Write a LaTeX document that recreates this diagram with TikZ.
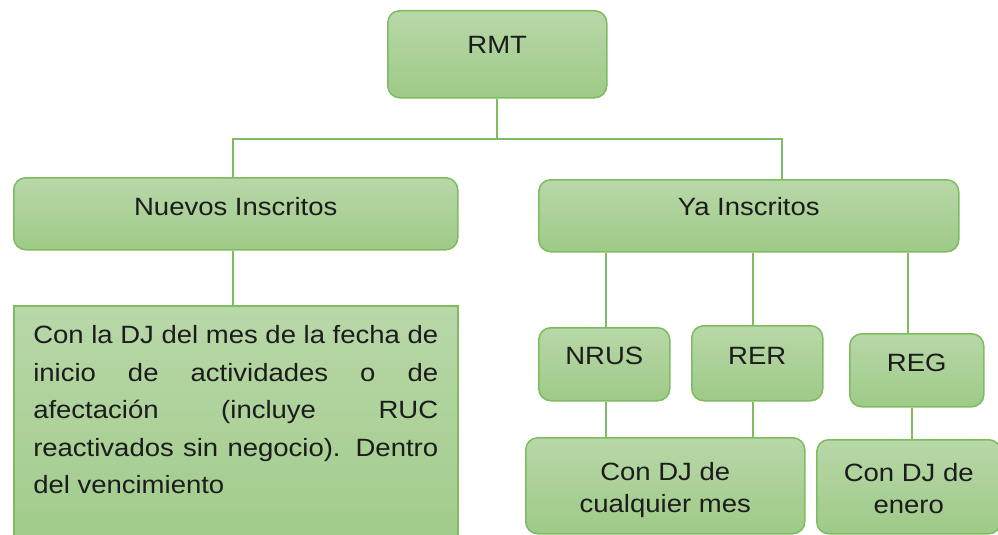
\documentclass[tikz,border=0pt]{standalone}
\usepackage{fontspec}
\setmainfont[FakeStretch=1.1]{Liberation Sans}
\definecolor{filltop}{RGB}{184,216,168}
\definecolor{fillbot}{RGB}{158,202,135}
\definecolor{boxline}{RGB}{126,187,97}
\definecolor{connc}{RGB}{126,187,97}
\definecolor{textc}{RGB}{28,28,28}
\begin{document}
\begin{tikzpicture}[x=1pt,y=-1pt,
  box/.style={draw=boxline, line width=1.5pt, top color=filltop, bottom color=fillbot,
    rounded corners=12pt, inner sep=0pt, anchor=north west, text=textc,
    font=\fontsize{25}{32}\selectfont},
  conn/.style={draw=connc, line width=2pt}]
\useasboundingbox (0,0) rectangle (998,535);
\clip (0,0) rectangle (998,535);

% boxes
\node[box, minimum width=219pt, text height=43pt, text depth=44pt] (rmt) at (387,10) {RMT};
\node[box, minimum width=444pt, text height=38pt, text depth=34pt] (nuevos) at (13,177) {Nuevos Inscritos};
\node[box, minimum width=420pt, text height=36pt, text depth=36pt] (ya) at (538,179) {Ya Inscritos};
\node[box, minimum width=131pt, text height=37pt, text depth=36pt] (nrus) at (538,327) {NRUS};
\node[box, minimum width=131pt, text height=39pt, text depth=36pt] (rer) at (691,325) {RER};
\node[box, minimum width=134pt, text height=38pt, text depth=35pt] (reg) at (849,333) {REG};
\node[box, minimum width=279pt, text height=43pt, text depth=53pt] (cual) at (525,437)
  {\begin{tabular}[t]{@{}c@{}}Con DJ de\\cualquier mes\end{tabular}};
\node[box, minimum width=184pt, text height=42pt, text depth=52pt] (enero) at (816,439)
  {\begin{tabular}[t]{@{}c@{}}Con DJ de\\enero\end{tabular}};
\node[box, sharp corners, minimum width=444pt, text height=38pt, text depth=230pt] (left) at (13,305)
  {\begin{minipage}[t]{405pt}\fontsize{25}{37.5}\selectfont\parindent=0pt
   \makebox[\linewidth][s]{Con la DJ del mes de la fecha de}\par
   \makebox[\linewidth][s]{inicio de actividades o de}\par
   \makebox[\linewidth][s]{afectación (incluye RUC}\par
   \makebox[\linewidth][s]{reactivados sin negocio). Dentro}\par
   del vencimiento\end{minipage}};

% connector guide coordinates
\coordinate (bus) at (0,139);
\coordinate (xn) at (233,0);
\coordinate (xy) at (782,0);
\coordinate (x1) at (606,0);
\coordinate (x2) at (753,0);
\coordinate (x3) at (908,0);
\coordinate (x4) at (912,0);

% connectors
\draw[conn] (rmt.south) -- (rmt.south |- bus);
\draw[conn] (nuevos.north -| xn) -- (xn |- bus) -- (xy |- bus) -- (ya.north -| xy);
\draw[conn] (nuevos.south -| xn) -- (left.north -| xn);
\draw[conn] (ya.south -| x1) -- (nrus.north -| x1);
\draw[conn] (ya.south -| x2) -- (rer.north -| x2);
\draw[conn] (ya.south -| x3) -- (reg.north -| x3);
\draw[conn] (nrus.south -| x1) -- (cual.north -| x1);
\draw[conn] (rer.south -| x2) -- (cual.north -| x2);
\draw[conn] (reg.south -| x4) -- (enero.north -| x4);
\end{tikzpicture}
\end{document}
